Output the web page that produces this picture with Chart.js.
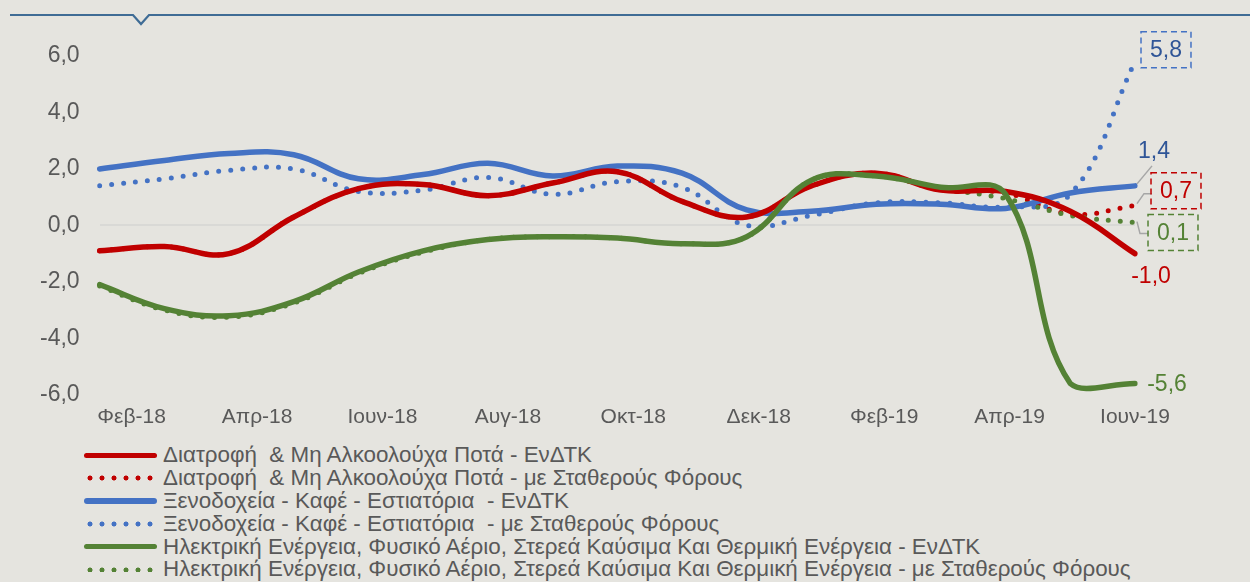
<!DOCTYPE html>
<html>
<head>
<meta charset="utf-8">
<script src="https://cdn.jsdelivr.net/npm/chart.js@4.4.1/dist/chart.umd.min.js"></script>
<style>
html, body { margin: 0; padding: 0; background: #e5e4df; }
#wrap { position: relative; width: 1250px; height: 582px; overflow: hidden; background: #e5e4df; }
#box { position: absolute; left: 0; top: 0; width: 1250px; height: 440px; }
#legend { position: absolute; left: 84px; top: 444px; font-family: "Liberation Sans", Arial, sans-serif; font-size: 22.4px; color: #595959; }
.row { height: 22.8px; display: flex; align-items: center; white-space: pre; }
.sw { width: 73px; height: 5.5px; margin-right: 6px; flex: none; }
</style>
</head>
<body>
<div id="wrap">
  <div id="box"><canvas id="myChart"></canvas></div>
  <div id="legend"></div>
</div>
<script>
// μήνες και σειρές
var months = ["Φεβ-18", "Μαρ-18", "Απρ-18", "Μαϊ-18", "Ιουν-18", "Ιουλ-18", "Αυγ-18", "Σεπ-18", "Οκτ-18",
  "Νοε-18", "Δεκ-18", "Ιαν-19", "Φεβ-19", "Μαρ-19", "Απρ-19", "Μαϊ-19", "Ιουν-19"];
var yTicks = [-6, -4, -2, 0, 2, 4, 6];

var food      = [-0.9, -0.75, -1.0, 0.3, 1.3, 1.45, 1.05, 1.5, 1.9, 0.85, 0.3, 1.4, 1.85, 1.25, 1.2, 0.5, -1.0];
var foodTax   = [-0.9, -0.75, -1.0, 0.3, 1.3, 1.45, 1.05, 1.5, 1.9, 0.85, 0.3, 1.4, 1.85, 1.25, 1.15, 0.4, 0.7];
var hotels    = [2.0, 2.3, 2.55, 2.5, 1.65, 1.8, 2.2, 1.75, 2.1, 1.85, 0.55, 0.5, 0.75, 0.75, 0.6, 1.15, 1.4];
var hotelsTax = [1.4, 1.65, 1.95, 2.0, 1.2, 1.25, 1.7, 1.1, 1.55, 1.35, 0.0, 0.35, 0.8, 0.8, 0.65, 1.1, 5.8];
var energy    = [-2.1, -2.95, -3.2, -2.7, -1.65, -0.9, -0.5, -0.4, -0.45, -0.65, -0.4, 1.6, 1.75, 1.35, 1.1, -5.6, -5.6];
var energyTax = [-2.15, -3.0, -3.25, -2.75, -1.7, -0.95, -0.5, -0.4, -0.45, -0.65, -0.4, 1.6, 1.75, 1.3, 0.95, 0.35, 0.1];

var names = [
  "Διατροφή  & Μη Αλκοολούχα Ποτά - ΕνΔΤΚ",
  "Διατροφή  & Μη Αλκοολούχα Ποτά - με Σταθερούς Φόρους",
  "Ξενοδοχεία - Καφέ - Εστιατόρια  - ΕνΔΤΚ",
  "Ξενοδοχεία - Καφέ - Εστιατόρια  - με Σταθερούς Φόρους",
  "Ηλεκτρική Ενέργεια, Φυσικό Αέριο, Στερεά Καύσιμα Και Θερμική Ενέργεια - ΕνΔΤΚ",
  "Ηλεκτρική Ενέργεια, Φυσικό Αέριο, Στερεά Καύσιμα Και Θερμική Ενέργεια - με Σταθερούς Φόρους"
];

var RED = "#c00000", BLUE = "#4472c4", GREEN = "#548235";

function fmt(v) { return v.toFixed(1).replace(".", ","); }

function solid(label, data, color, order) {
  return { label: label, data: data, borderColor: color, backgroundColor: color, borderWidth: 5.5,
    pointRadius: 0, tension: 0.4, borderCapStyle: "round", order: order };
}
function dotted(label, data, color, order) {
  return { label: label, data: data, borderColor: color, backgroundColor: color, borderWidth: 5,
    borderDash: [0, 12], borderCapStyle: "round", pointRadius: 0, tension: 0.4, order: order };
}

// ετικέτες στο τέλος των γραμμών
var endLabels = [
  { ds: 3, color: "#2f5597", box: BLUE, dx: 31, dy: -12 },
  { ds: 2, color: "#2f5597", dx: 19, dy: -35, lead: [[2, -2], [17, -20]] },
  { ds: 1, color: RED, box: RED, dx: 41, dy: -15, lead: [[2, -2], [9, -12], [17, -12]] },
  { ds: 5, color: GREEN, box: GREEN, dx: 38, dy: 10, lead: [[2, -1], [5, 11], [13, 11]] },
  { ds: 0, color: RED, dx: 16, dy: 22 },
  { ds: 4, color: GREEN, dx: 32, dy: 0 }
];

var endLabelPlugin = {
  id: "endLabels",
  afterDatasetsDraw: function (chart) {
    var c = chart.ctx;
    c.save();
    c.font = "23px 'Liberation Sans', Arial, sans-serif";
    c.textAlign = "center";
    c.textBaseline = "middle";
    endLabels.forEach(function (l) {
      var meta = chart.getDatasetMeta(l.ds);
      var pt = meta.data[meta.data.length - 1];
      var data = chart.data.datasets[l.ds].data;
      var txt = fmt(data[data.length - 1]);
      var x = pt.x + l.dx, y = pt.y + l.dy;
      if (l.lead) {
        c.strokeStyle = "#a6a6a6";
        c.lineWidth = 1.5;
        c.setLineDash([]);
        c.beginPath();
        l.lead.forEach(function (p, i) {
          if (i === 0) c.moveTo(pt.x + p[0], pt.y + p[1]);
          else c.lineTo(pt.x + p[0], pt.y + p[1]);
        });
        c.stroke();
      }
      if (l.box) {
        var w = c.measureText(txt).width + 18;
        c.strokeStyle = l.box;
        c.lineWidth = 1.5;
        c.setLineDash([6, 4]);
        c.strokeRect(x - w / 2, y - 18, w, 36);
      }
      c.fillStyle = l.color;
      c.fillText(txt, x, y + 1);
    });
    c.restore();
  }
};

// γραμμή στο πάνω μέρος
var topLinePlugin = {
  id: "topLine",
  beforeDraw: function (chart) {
    var c = chart.ctx;
    c.save();
    c.strokeStyle = "#3f6c95";
    c.lineWidth = 2.2;
    c.beginPath();
    c.moveTo(10, 15);
    c.lineTo(133, 15);
    c.lineTo(141, 24);
    c.lineTo(149, 15);
    c.lineTo(1250, 15);
    c.stroke();
    c.restore();
  }
};

var ctx = document.getElementById("myChart");
var myChart = new Chart(ctx, {
  type: "line",
  data: {
    labels: months,
    datasets: [
      solid(names[0], food, RED, 1),
      dotted(names[1], foodTax, RED, 4),
      solid(names[2], hotels, BLUE, 2),
      dotted(names[3], hotelsTax, BLUE, 5),
      solid(names[4], energy, GREEN, 0),
      dotted(names[5], energyTax, GREEN, 3)
    ]
  },
  options: {
    responsive: true,
    maintainAspectRatio: false,
    animation: false,
    layout: { padding: { top: 56, left: 20, right: 115, bottom: 0 } },
    plugins: { legend: { display: false }, tooltip: { enabled: false } },
    scales: {
      x: { type: "category", display: false, offset: false },
      xt: {
        type: "linear", position: "bottom", min: -0.51, max: months.length - 1,
        grid: { display: false, drawTicks: false }, border: { display: false },
        afterBuildTicks: function (axis) {
          axis.ticks = months.map(function (m, i) { return { value: i }; })
            .filter(function (t) { return t.value % 2 === 0; });
        },
        ticks: {
          padding: 10, color: "#595959", maxRotation: 0, autoSkip: false,
          font: { family: "'Liberation Sans', Arial, sans-serif", size: 21 },
          callback: function (v) { return months[v]; }
        }
      },
      y: {
        min: yTicks[0], max: yTicks[yTicks.length - 1],
        afterBuildTicks: function (axis) { axis.ticks = yTicks.map(function (v) { return { value: v }; }); },
        border: { display: false },
        grid: {
          drawTicks: false, lineWidth: 2,
          color: function (c) { return c.tick && c.tick.value === 0 ? "#d9d9d6" : "rgba(0,0,0,0)"; }
        },
        ticks: {
          padding: 20, color: "#595959",
          font: { family: "'Liberation Sans', Arial, sans-serif", size: 23 },
          callback: function (v) { return fmt(v); }
        }
      }
    }
  },
  plugins: [topLinePlugin, endLabelPlugin]
});

// υπόμνημα
var legendColors = [RED, RED, BLUE, BLUE, GREEN, GREEN];
var lg = document.getElementById("legend");
names.forEach(function (n, i) {
  var row = document.createElement("div");
  row.className = "row";
  var sw = document.createElement("div");
  sw.className = "sw";
  if (i % 2 === 0) {
    sw.style.background = legendColors[i];
    sw.style.borderRadius = "3px";
  } else {
    sw.style.background = "radial-gradient(circle, " + legendColors[i] + " 2.2px, rgba(0,0,0,0) 2.8px) 0 0 / 12px 6px repeat-x";
  }
  var tx = document.createElement("span");
  tx.textContent = n;
  row.appendChild(sw);
  row.appendChild(tx);
  lg.appendChild(row);
});
</script>
</body>
</html>
